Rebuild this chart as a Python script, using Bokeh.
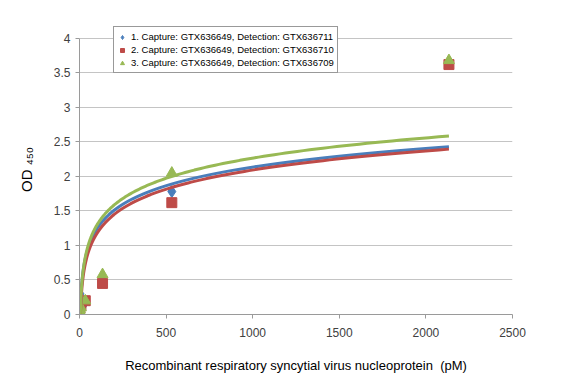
import numpy as np
from bokeh.plotting import figure
from bokeh.models import (ColumnDataSource, FixedTicker, NumeralTickFormatter,
                          Legend, LegendItem, Range1d)
from bokeh.embed import file_html
from bokeh.resources import INLINE

# ---- data ----
conc_pm = [0.52, 2.08, 8.33, 33.3, 133, 533, 2133]
series_names = [
    "1. Capture: GTX636649, Detection: GTX636711",
    "2. Capture: GTX636649, Detection: GTX636710",
    "3. Capture: GTX636649, Detection: GTX636709",
]
od_1 = [0.10, 0.30, 0.13, 0.18, 0.50, 1.78, 3.66]
od_2 = [0.08, 0.10, 0.14, 0.20, 0.45, 1.62, 3.62]
od_3 = [0.05, 0.07, 0.10, 0.20, 0.58, 2.05, 3.68]
# logarithmic trendlines y = a*ln(x) + b (Excel-style), coefficients
trend_a = [0.389, 0.400, 0.422]
trend_b = [-0.552, -0.671, -0.650]
x_ticks = [0, 500, 1000, 1500, 2000, 2500]
y_ticks = [0, 0.5, 1, 1.5, 2, 2.5, 3, 3.5, 4]

colors = ["#4A7EBB", "#BE4B48", "#98B954"]
FONT = "Liberation Sans"

p = figure(width=582, height=382, output_backend="svg", toolbar_location=None,
           x_range=Range1d(0, 2500), y_range=Range1d(0, 4.2),
           min_border_left=79, min_border_right=70, min_border_top=24,
           min_border_bottom=68)
p.outline_line_color = None
p.xgrid.grid_line_color = None
p.ygrid.grid_line_color = "#c4c4c4"
p.ygrid.grid_line_width = 1

p.xaxis.ticker = FixedTicker(ticks=x_ticks)
p.yaxis.ticker = FixedTicker(ticks=y_ticks)
p.xaxis.formatter = NumeralTickFormatter(format="0")
p.yaxis.formatter = NumeralTickFormatter(format="0.[0]")
p.yaxis.bounds = (0, 4)
for ax in (p.xaxis, p.yaxis):
    ax.axis_line_color = "#9a9a9a"
    ax.major_tick_line_color = "#9a9a9a"
    ax.minor_tick_line_color = None
    ax.major_tick_in = 0
    ax.major_tick_out = 4
    ax.major_label_text_font = FONT
    ax.major_label_text_font_size = "12px"
    ax.major_label_text_color = "#404040"
    ax.axis_label_text_font = FONT
    ax.axis_label_text_font_style = "normal"
    ax.axis_label_text_color = "#000000"
p.xaxis.major_label_standoff = 9
p.yaxis.major_label_standoff = 5

p.xaxis.axis_label = "Recombinant respiratory syncytial virus nucleoprotein \u00a0(pM)"
p.xaxis.axis_label_text_font_size = "13px"
p.xaxis.axis_label_standoff = 18

p.yaxis.axis_label = "OD \u2084\u2085\u2080"
p.yaxis.axis_label_text_font_size = "15px"
p.yaxis.axis_label_standoff = 16

markers = []
src1 = ColumnDataSource(dict(x=conc_pm, y=od_1))
markers.append(p.scatter("x", "y", source=src1, marker="diamond", size=12,
                         fill_color=colors[0], line_color=colors[0]))
src2 = ColumnDataSource(dict(x=conc_pm, y=od_2))
markers.append(p.scatter("x", "y", source=src2, marker="square", size=10,
                         fill_color=colors[1], line_color=colors[1]))
src3 = ColumnDataSource(dict(x=conc_pm, y=od_3))
markers.append(p.scatter("x", "y", source=src3, marker="triangle", size=11,
                         fill_color=colors[2], line_color=colors[2]))

xfit = np.geomspace(min(conc_pm), max(conc_pm), 300)
for a, b, c in zip(trend_a, trend_b, colors):
    p.line(xfit, a * np.log(xfit) + b, line_color=c, line_width=3)

legend = Legend(items=[LegendItem(label=n, renderers=[r]) for n, r in zip(series_names, markers)],
                location=(34, 241), padding=3, spacing=0, margin=0,
                glyph_width=10, glyph_height=10, label_standoff=4, label_height=13,
                label_text_font=FONT, label_text_font_size="9.5px",
                label_text_color="#000000",
                border_line_color="#333333", border_line_width=1,
                background_fill_color="white", background_fill_alpha=1)
p.add_layout(legend)

open("out.html", "w").write(file_html(p, INLINE))
